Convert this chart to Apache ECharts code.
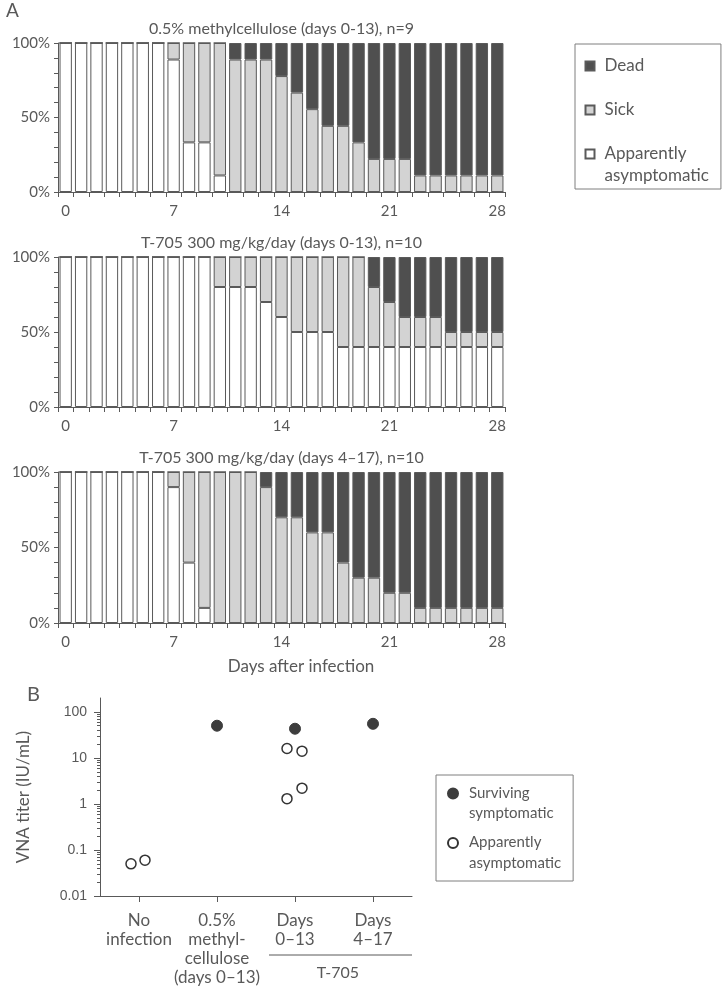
<!DOCTYPE html>
<html><head><meta charset="utf-8">
<script src="https://cdn.jsdelivr.net/npm/echarts@6/dist/echarts.min.js"></script>
<style>html,body{margin:0;padding:0;background:#fff}#c{width:723px;height:987px}</style>
</head><body><div id="c"></div>
<script>
// ---------- DATA ----------
const days = ['0','1','2','3','4','5','6','7','8','9','10','11','12','13','14','15','16','17','18','19','20','21','22','23','24','25','26','27','28'];
const panelTitles = ['0.5% methylcellulose (days 0-13), n=9', 'T-705 300 mg/kg/day (days 0-13), n=10', 'T-705 300 mg/kg/day (days 4\u201317), n=10'];
// percent of animals per state, per day
const mcAsym  = [100,100,100,100,100,100,100,88.9,33.3,33.3,11.1,0,0,0,0,0,0,0,0,0,0,0,0,0,0,0,0,0,0];
const mcSick  = [0,0,0,0,0,0,0,11.1,66.7,66.7,88.9,88.9,88.9,88.9,77.8,66.7,55.6,44.4,44.4,33.3,22.2,22.2,22.2,11.1,11.1,11.1,11.1,11.1,11.1];
const mcDead  = [0,0,0,0,0,0,0,0,0,0,0,11.1,11.1,11.1,22.2,33.3,44.4,55.6,55.6,66.7,77.8,77.8,77.8,88.9,88.9,88.9,88.9,88.9,88.9];
const earlyAsym = [100,100,100,100,100,100,100,100,100,100,80,80,80,70,60,50,50,50,40,40,40,40,40,40,40,40,40,40,40];
const earlySick = [0,0,0,0,0,0,0,0,0,0,20,20,20,30,40,50,50,50,60,60,40,30,20,20,20,10,10,10,10];
const earlyDead = [0,0,0,0,0,0,0,0,0,0,0,0,0,0,0,0,0,0,0,0,20,30,40,40,40,50,50,50,50];
const lateAsym = [100,100,100,100,100,100,100,90,40,10,0,0,0,0,0,0,0,0,0,0,0,0,0,0,0,0,0,0,0];
const lateSick = [0,0,0,0,0,0,0,10,60,90,100,100,100,90,70,70,60,60,40,30,30,20,20,10,10,10,10,10,10];
const lateDead = [0,0,0,0,0,0,0,0,0,0,0,0,0,10,30,30,40,40,60,70,70,80,80,90,90,90,90,90,90];
const pctTicks = ['0%','50%','100%'];

const groupsB = ['No\ninfection', '0.5%\nmethyl-\ncellulose\n(days 0\u201313)', 'Days\n0\u201313', 'Days\n4\u201317'];
const survivingSymptomatic = [[1, 50], [2, 43], [3, 55]];
const apparentlyAsymptomatic = [[0, 0.05], [0, 0.06], [2, 16], [2, 14], [2, 1.3], [2, 2.2]];
const titerTicks = [0.01, 0.1, 1, 10, 100];
const titerMinor = [0.02,0.03,0.04,0.05,0.06,0.07,0.08,0.09,0.2,0.3,0.4,0.5,0.6,0.7,0.8,0.9,2,3,4,5,6,7,8,9,20,30,40,50,60,70,80,90];

// ---------- STYLE ----------
const TXT = '#595959', AX = '#595959', FONT = 'Lato';
const C_DEAD = '#4f4f4f', C_SICK = '#d3d3d3', C_ASYM = '#ffffff', C_BORDER = '#5a5a5a';
const panels = [[mcAsym, mcSick, mcDead], [earlyAsym, earlySick, earlyDead], [lateAsym, lateSick, lateDead]];
const gridTops = [43, 257, 472];
const gridHeights = [149, 150, 151];

const grids = [], xAxes = [], yAxes = [], series = [], titles = [];
titles.push({text: 'A', left: 6, top: 1, padding: 0, textStyle: {fontSize: 19, fontWeight: 'normal', color: TXT, fontFamily: FONT}});
titles.push({text: 'B', left: 27, top: 685, padding: 0, textStyle: {fontSize: 20, fontWeight: 'normal', color: TXT, fontFamily: FONT}});
titles.push({text: 'Days after infection', left: 301, top: 658, textAlign: 'center', padding: 0, textStyle: {fontSize: 17, fontWeight: 'normal', color: TXT, fontFamily: FONT}});

panels.forEach((p, i) => {
  grids.push({left: 58, top: gridTops[i], width: 447, height: gridHeights[i]});
  titles.push({text: panelTitles[i], left: 281.5, top: gridTops[i] - 22, textAlign: 'center', padding: 0,
    textStyle: {fontSize: 16, fontWeight: 'normal', color: TXT, fontFamily: FONT}});
  xAxes.push({type: 'category', gridIndex: i, data: days, boundaryGap: true,
    axisLine: {lineStyle: {color: AX, width: 1}},
    axisTick: {show: true, interval: 0, length: 5, lineStyle: {color: AX}},
    axisLabel: {interval: (idx) => idx % 7 === 0, color: TXT, fontSize: 15, fontFamily: FONT, margin: 12}});
  yAxes.push({type: 'value', gridIndex: i, min: 0, max: 100, interval: 10,
    axisLine: {show: true, lineStyle: {color: AX, width: 1}},
    axisTick: {show: true, length: 4, lineStyle: {color: AX}},
    splitLine: {show: false},
    axisLabel: {color: TXT, fontSize: 15, fontFamily: FONT, margin: 8,
      formatter: (v) => (v % 50 === 0 ? pctTicks[v / 50] : '')}});
  const names = ['Apparently asymptomatic', 'Sick', 'Dead'];
  const cols = [C_ASYM, C_SICK, C_DEAD];
  p.forEach((arr, k) => {
    series.push({type: 'bar', name: names[k], xAxisIndex: i, yAxisIndex: i, stack: 'p' + i,
      data: arr, barWidth: '80%', animation: false,
      itemStyle: {color: cols[k], borderColor: C_BORDER, borderWidth: 1}});
  });
});

// Panel B
grids.push({left: 100, top: 698, width: 312, height: 199});
xAxes.push({type: 'category', gridIndex: 3, data: groupsB, boundaryGap: true,
  axisLine: {lineStyle: {color: AX, width: 1}},
  axisTick: {show: true, alignWithLabel: true, length: 6, lineStyle: {color: AX}},
  axisLabel: {interval: 0, color: TXT, fontSize: 17, fontFamily: FONT, lineHeight: 19, margin: 15}});
yAxes.push({type: 'log', gridIndex: 3, logBase: 10, min: 0.01, max: 200,
  name: 'VNA titer (IU/mL)', nameLocation: 'middle', nameGap: 68,
  nameTextStyle: {fontSize: 17, color: TXT, fontFamily: FONT},
  axisLine: {show: true, lineStyle: {color: AX, width: 1}},
  axisTick: {show: true, length: 6, customValues: titerTicks, lineStyle: {color: AX}},
  splitLine: {show: false},
  axisLabel: {customValues: titerTicks, color: TXT, fontSize: 14, fontFamily: 'Liberation Sans', margin: 13,
    formatter: (v) => { const r = titerTicks.find(t => Math.abs(t - v) / t < 1e-6); return r === undefined ? '' : String(r); }}});
yAxes.push({type: 'log', gridIndex: 3, logBase: 10, min: 0.01, max: 200, position: 'left',
  axisLine: {show: false}, splitLine: {show: false}, axisLabel: {show: false},
  axisTick: {show: true, length: 3, customValues: titerMinor, lineStyle: {color: AX}}});

const jitterAsym = [-8, 6, -8, 7, -8, 7];
series.push({type: 'scatter', name: 'Surviving symptomatic', xAxisIndex: 3, yAxisIndex: 3,
  data: survivingSymptomatic, symbol: 'circle', symbolSize: 11, animation: false,
  itemStyle: {color: '#3d3d3d', borderColor: '#3d3d3d', borderWidth: 1, opacity: 1}});
series.push({type: 'scatter', name: 'Apparently asymptomatic (B)', xAxisIndex: 3, yAxisIndex: 3,
  data: apparentlyAsymptomatic.map((d, j) => ({value: d, symbolOffset: [jitterAsym[j], 0]})),
  symbol: 'circle', symbolSize: 10, animation: false,
  itemStyle: {color: '#ffffff', borderColor: '#333333', borderWidth: 1.5, opacity: 1}});

const legendTextA = {'Dead': '{a|Dead}\n{b| }', 'Sick': '{a|Sick}\n{b| }', 'Apparently asymptomatic': '{a|Apparently}\n{b|asymptomatic}'};
const legendTextB = {'Surviving symptomatic': '{a|Surviving}\n{b|symptomatic}', 'Apparently asymptomatic (B)': '{a|Apparently}\n{b|asymptomatic}'};

const option = {
  backgroundColor: '#ffffff',
  animation: false,
  title: titles,
  grid: grids,
  xAxis: xAxes,
  yAxis: yAxes,
  series: series,
  legend: [
    {orient: 'vertical', left: 575, top: 44, data: ['Dead', 'Sick', 'Apparently asymptomatic'],
      itemWidth: 9, itemHeight: 9, itemGap: 5, padding: [13, 12, 5, 9.5], selectedMode: false,
      borderColor: '#7f7f7f', borderWidth: 1, icon: 'rect',
      formatter: (n) => legendTextA[n],
      textStyle: {padding: [0, 0, 0, 5], rich: {
        a: {fontSize: 17, lineHeight: 27, color: TXT, fontFamily: FONT},
        b: {fontSize: 17, lineHeight: 1, verticalAlign: 'top', color: TXT, fontFamily: FONT}}}},
    {orient: 'vertical', left: 436, top: 775, data: ['Surviving symptomatic', 'Apparently asymptomatic (B)'],
      itemWidth: 10, itemHeight: 10, itemGap: 14, padding: [10.5, 12, 10.5, 11], selectedMode: false,
      borderColor: '#7f7f7f', borderWidth: 1, icon: 'circle',
      formatter: (n) => legendTextB[n],
      textStyle: {padding: [0, 0, 0, 6], rich: {
        a: {fontSize: 15, lineHeight: 26, color: TXT, fontFamily: FONT},
        b: {fontSize: 15, lineHeight: 1, verticalAlign: 'top', color: TXT, fontFamily: FONT}}}}
  ],
  graphic: [
    {type: 'line', shape: {x1: 269, y1: 955, x2: 412, y2: 955}, style: {stroke: AX, lineWidth: 1}},
    {type: 'text', x: 338, y: 973, style: {text: 'T-705', fill: TXT, font: '16px Lato', textAlign: 'center', textVerticalAlign: 'middle'}}
  ]
};
const chart = echarts.init(document.getElementById('c'), null, {renderer: 'canvas'});
chart.setOption(option);
</script></body></html>
